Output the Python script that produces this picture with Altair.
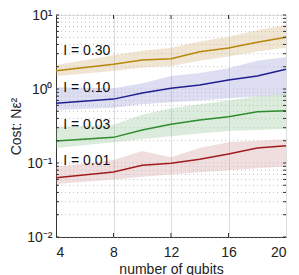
import altair as alt
import pandas as pd

qubits = [4, 8, 10, 12, 14, 16, 18, 20]
labels = ["I = 0.30", "I = 0.10", "I = 0.03", "I = 0.01"]
mean_030 = [1.77, 2.16, 2.47, 2.56, 3.19, 3.58, 4.28, 5.0]
lo_030 = [1.50, 1.75, 1.95, 2.05, 2.4, 2.75, 3.2, 3.6]
hi_030 = [2.11, 2.85, 3.3, 3.6, 4.4, 5.1, 6.2, 7.4]
mean_010 = [0.64, 0.73, 0.88, 1.02, 1.13, 1.32, 1.50, 1.85]
lo_010 = [0.52, 0.56, 0.62, 0.66, 0.70, 0.75, 0.80, 0.84]
hi_010 = [1.06, 1.02, 1.20, 1.50, 1.65, 1.90, 2.40, 2.70]
mean_003 = [0.198, 0.222, 0.279, 0.333, 0.381, 0.422, 0.493, 0.509]
lo_003 = [0.16, 0.19, 0.21, 0.23, 0.25, 0.27, 0.28, 0.29]
hi_003 = [0.31, 0.33, 0.45, 0.55, 0.62, 0.70, 0.80, 0.86]
mean_001 = [0.0633, 0.0755, 0.093, 0.099, 0.112, 0.132, 0.160, 0.171]
lo_001 = [0.052, 0.060, 0.065, 0.070, 0.075, 0.080, 0.085, 0.090]
hi_001 = [0.088, 0.110, 0.145, 0.120, 0.160, 0.190, 0.200, 0.210]
label_x = [4.5, 4.5, 4.5, 4.5]
label_y = [3.27, 1.03, 0.327, 0.106]

line_colors = ["#b8860b", "#1f1f8f", "#2e8b2e", "#a01c1c"]
band_colors = ["#c8a060", "#8a8ad0", "#80bb80", "#c88888"]

rows = []
for lab, m, lo, hi in zip(labels, [mean_030, mean_010, mean_003, mean_001],
                          [lo_030, lo_010, lo_003, lo_001], [hi_030, hi_010, hi_003, hi_001]):
    for q, a, b, c in zip(qubits, m, lo, hi):
        rows.append({"series": lab, "q": q, "mean": a, "lo": b, "hi": c})
df = pd.DataFrame(rows)
lab_df = pd.DataFrame({"series": labels, "x": label_x, "y": label_y})

grid_vals = [k * 10.0 ** e for e in (-2, -1, 0) for k in range(1, 10)] + [10.0]
grid_df = pd.DataFrame({"v": grid_vals})
xt_df = pd.DataFrame({"q": [8, 12, 16]})

W, H = 230, 222
xs = alt.Scale(domain=[4, 20], nice=False)
ys = alt.Scale(type="log", domain=[0.01, 10], nice=False)
cs = alt.Scale(domain=labels, range=line_colors)
bs = alt.Scale(domain=labels, range=band_colors)

xaxis = alt.Axis(values=[4, 8, 12, 16, 20], title="number of qubits", grid=True,
                 gridColor="#dddddd", gridWidth=1, tickSize=0, labelPadding=8,
                 labelFontSize=14, titleFontSize=14, titleFont="Liberation Sans",
                 labelFont="Liberation Sans", titleFontWeight="normal", titlePadding=3,
                 domainColor="#333333", labelColor="#222222", titleColor="#222222")
yaxis = alt.Axis(values=[0.01, 0.1, 1, 10], title="Cost: Nε²", grid=False, tickSize=0,
                 labelExpr="datum.value >= 10 ? '10¹' : datum.value >= 1 ? '10⁰' : datum.value >= 0.1 ? '10⁻¹' : '10⁻²'",
                 labelFontSize=14, titleFontSize=14, labelPadding=4,
                 titleFont="Liberation Sans", labelFont="Liberation Sans",
                 titleFontWeight="normal", titlePadding=3,
                 domainColor="#333333", labelColor="#222222", titleColor="#222222")

base = alt.Chart(df)
bands = base.mark_area(opacity=0.28, line=False).encode(
    x=alt.X("q:Q", scale=xs, axis=xaxis),
    y=alt.Y("lo:Q", scale=ys, axis=yaxis),
    y2="hi:Q",
    color=alt.Color("series:N", scale=bs, legend=None),
)
grid = alt.Chart(grid_df).mark_rule(strokeDash=[1, 3], color="#c0c0c0", strokeWidth=1).encode(
    y=alt.Y("v:Q", scale=ys)
)
lines = base.mark_line(strokeWidth=1.5).encode(
    x=alt.X("q:Q", scale=xs),
    y=alt.Y("mean:Q", scale=ys),
    stroke=alt.Stroke("series:N", scale=cs, legend=None),
)
texts = alt.Chart(lab_df).mark_text(align="left", baseline="middle", fontSize=14,
                                    font="Liberation Sans", color="#111111").encode(
    x=alt.X("x:Q", scale=xs), y=alt.Y("y:Q", scale=ys), text="series:N"
)
# inward ticks
ytick_l = alt.Chart(grid_df).mark_rule(color="#333333").encode(
    y=alt.Y("v:Q", scale=ys), x=alt.value(0), x2=alt.value(3))
ytick_r = alt.Chart(grid_df).mark_rule(color="#333333").encode(
    y=alt.Y("v:Q", scale=ys), x=alt.value(W - 3), x2=alt.value(W))
xtick_b = alt.Chart(xt_df).mark_rule(color="#333333").encode(
    x=alt.X("q:Q", scale=xs), y=alt.value(H - 4), y2=alt.value(H))
xtick_t = alt.Chart(xt_df).mark_rule(color="#333333").encode(
    x=alt.X("q:Q", scale=xs), y=alt.value(0), y2=alt.value(4))

chart = alt.layer(bands, grid, lines, texts, ytick_l, ytick_r, xtick_b, xtick_t).resolve_scale(
    color="independent", stroke="independent"
).properties(
    width=W, height=H,
    autosize=alt.AutoSizeParams(type="none"),
    padding={"left": 48, "top": 7, "right": 5, "bottom": 38},
).configure_view(stroke="#333333", strokeWidth=1).configure(background="white")

chart.save("out.html", embed_options={"renderer": "svg", "actions": False})
